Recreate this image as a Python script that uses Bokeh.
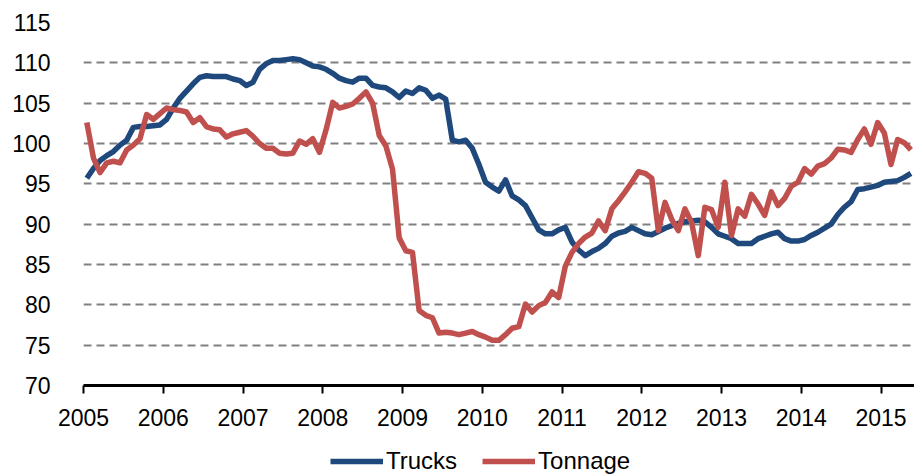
from bokeh.plotting import figure
from bokeh.layouts import column
from bokeh.models import FixedTicker, Legend, LegendItem, Range1d, ColumnDataSource
from bokeh.embed import file_html
from bokeh.resources import INLINE

# ---- data (monthly index values, Jan 2005 - May 2015) ----
start_year = 2005
trucks = [
    95.7, 96.9, 97.9, 98.5, 99.0, 99.8, 100.4, 102.0, 102.1, 102.1, 102.2, 102.3,      # 2005
    103.0, 104.4, 105.6, 106.5, 107.4, 108.2, 108.4, 108.3, 108.3, 108.3, 108.0, 107.8, # 2006
    107.2, 107.6, 109.2, 109.9, 110.3, 110.3, 110.4, 110.5, 110.4, 110.0, 109.6, 109.5, # 2007
    109.2, 108.7, 108.1, 107.8, 107.6, 108.1, 108.1, 107.2, 107.0, 106.9, 106.4, 105.7, # 2008
    106.5, 106.2, 106.9, 106.6, 105.6, 106.0, 105.5, 100.4, 100.2, 100.4, 99.4, 97.4,   # 2009
    95.2, 94.6, 94.1, 95.5, 93.5, 93.0, 92.3, 90.8, 89.3, 88.8, 88.8, 89.3,             # 2010
    89.6, 87.8, 86.8, 86.1, 86.6, 87.0, 87.6, 88.5, 88.9, 89.1, 89.6, 89.2,             # 2011
    88.8, 88.7, 89.1, 89.5, 89.8, 90.1, 90.3, 90.4, 90.5, 90.3, 89.6, 88.8,             # 2012
    88.5, 88.2, 87.6, 87.6, 87.6, 88.2, 88.5, 88.8, 89.0, 88.2, 87.9, 87.9,             # 2013
    88.1, 88.6, 89.0, 89.5, 90.0, 91.2, 92.1, 92.8, 94.3, 94.4, 94.6, 94.8,             # 2014
    95.2, 95.3, 95.4, 95.8, 96.3,                                                       # 2015
]
tonnage = [
    102.6, 98.2, 96.4, 97.6, 97.8, 97.6, 99.2, 99.8, 100.6, 103.6, 103.0, 103.7,        # 2005
    104.4, 104.2, 104.1, 103.9, 102.6, 103.2, 102.1, 101.8, 101.7, 100.8, 101.2, 101.4, # 2006
    101.6, 100.9, 100.0, 99.4, 99.4, 98.8, 98.7, 98.8, 100.3, 99.9, 100.6, 98.9,        # 2007
    101.7, 105.1, 104.4, 104.6, 104.9, 105.6, 106.4, 105.0, 101.0, 99.7, 96.8, 88.3,    # 2008
    86.7, 86.5, 79.3, 78.7, 78.4, 76.5, 76.6, 76.5, 76.3, 76.5, 76.7, 76.3,             # 2009
    76.0, 75.6, 75.6, 76.3, 77.1, 77.3, 80.1, 79.1, 79.9, 80.3, 81.6, 80.9,             # 2010
    84.8, 86.5, 87.6, 88.4, 88.9, 90.4, 89.2, 91.9, 92.9, 94.0, 95.2, 96.5,             # 2011
    96.3, 95.7, 89.2, 92.7, 90.6, 89.2, 91.9, 90.2, 86.1, 92.1, 91.8, 89.6,             # 2012
    95.2, 88.6, 91.9, 91.0, 93.7, 92.5, 91.1, 94.0, 92.3, 93.2, 94.7, 95.2,             # 2013
    96.9, 96.2, 97.2, 97.5, 98.2, 99.3, 99.2, 98.9, 100.5, 101.8, 99.9, 102.6,          # 2014
    101.3, 97.4, 100.5, 100.1, 99.2,                                                    # 2015
]
x_tick_years = [2005, 2006, 2007, 2008, 2009, 2010, 2011, 2012, 2013, 2014, 2015]
x_tick_labels = ["2005", "2006", "2007", "2008", "2009", "2010", "2011", "2012", "2013", "2014", "2015"]
y_ticks = [70, 75, 80, 85, 90, 95, 100, 105, 110, 115]
series_names = ["Trucks", "Tonnage"]

# mid-month decimal-year positions
months = [start_year + (i + 0.5) / 12.0 for i in range(len(trucks))]
src = ColumnDataSource(dict(x=months, trucks=trucks, tonnage=tonnage))

FONT = "'Liberation Sans', Arial, sans-serif"
BLUE = "#1F497D"
RED = "#C0504D"
LW = 5.5

p = figure(width=914, height=435, output_backend="svg", toolbar_location=None,
           x_range=Range1d(2005, 2015.42), y_range=Range1d(70, 115),
           min_border_left=83, min_border_right=0, min_border_top=22, min_border_bottom=50)
p.outline_line_color = None
p.background_fill_color = "white"
p.border_fill_color = "white"

# grid
p.xgrid.grid_line_color = None
p.ygrid.grid_line_color = "#808080"
p.ygrid.grid_line_width = 2
p.ygrid.grid_line_dash = "8 5"
p.ygrid[0].ticker = FixedTicker(ticks=y_ticks[1:])

# y axis
p.yaxis.ticker = FixedTicker(ticks=y_ticks)
p.yaxis.axis_line_color = None
p.yaxis.major_tick_line_color = None
p.yaxis.minor_tick_line_color = None
p.yaxis.major_label_standoff = 27
p.yaxis.major_label_text_font = FONT
p.yaxis.major_label_text_font_size = "23px"
p.yaxis.major_label_text_color = "black"

# x axis
p.xaxis.ticker = FixedTicker(ticks=x_tick_years)
p.xaxis.major_label_overrides = {y: s for y, s in zip(x_tick_years, x_tick_labels)}
p.xaxis.axis_line_color = "black"
p.xaxis.axis_line_width = 3
p.xaxis.major_tick_line_color = "black"
p.xaxis.major_tick_line_width = 2
p.xaxis.major_tick_out = 8
p.xaxis.major_tick_in = 0
p.xaxis.minor_tick_line_color = None
p.xaxis.major_label_standoff = 15
p.xaxis.major_label_text_font = FONT
p.xaxis.major_label_text_font_size = "23px"
p.xaxis.major_label_text_color = "black"

p.line("x", "trucks", source=src, line_color=BLUE, line_width=LW, line_join="round")
p.line("x", "tonnage", source=src, line_color=RED, line_width=LW, line_join="round")

# ---- legend strip below the chart (series drawn out of view, only swatches show) ----
leg = figure(width=914, height=40, output_backend="svg", toolbar_location=None,
             x_range=Range1d(0, 1), y_range=Range1d(0, 1),
             x_axis_type=None, y_axis_type=None, min_border=0)
leg.outline_line_color = None
leg.xgrid.grid_line_color = None
leg.ygrid.grid_line_color = None
k1 = leg.line("x", "trucks", source=src, line_color=BLUE, line_width=LW)
k2 = leg.line("x", "tonnage", source=src, line_color=RED, line_width=LW)
legend = Legend(items=[LegendItem(label=series_names[0], renderers=[k1]),
                       LegendItem(label=series_names[1], renderers=[k2])],
                orientation="horizontal", location=(247, 0),
                glyph_width=53, glyph_height=20, label_standoff=3, spacing=25,
                padding=0, margin=0, border_line_color=None, background_fill_alpha=0,
                label_text_font=FONT, label_text_font_size="24px", label_text_color="black")
leg.add_layout(legend)

open("out.html", "w").write(file_html(column(p, leg, spacing=0), INLINE))
